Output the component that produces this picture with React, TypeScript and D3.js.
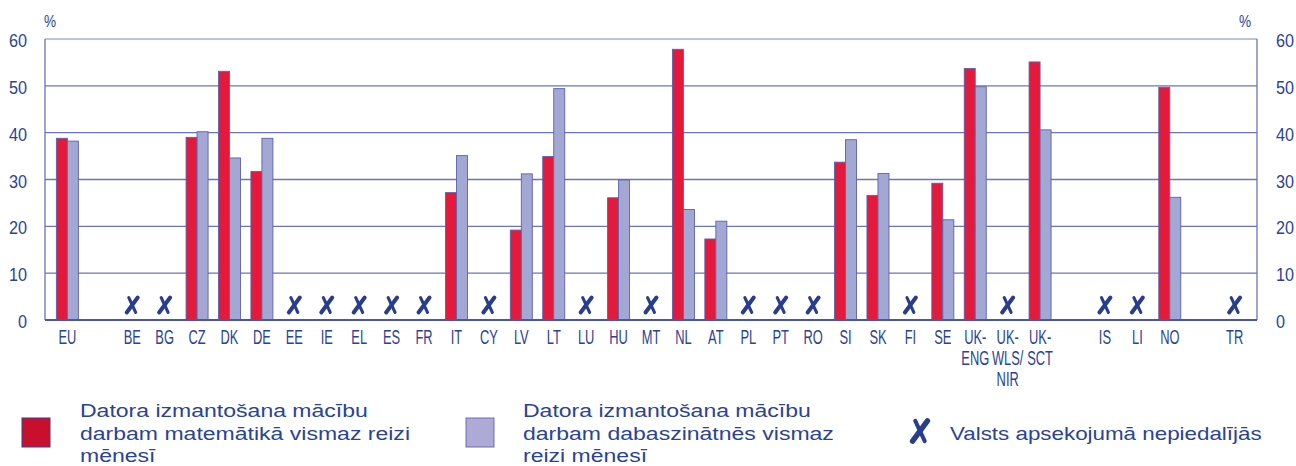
import React from "react";
import * as d3 from "d3";

const categories = ["EU","gap1","BE","BG","CZ","DK","DE","EE","IE","EL","ES","FR","IT","CY","LV","LT","LU","HU","MT","NL","AT","PL","PT","RO","SI","SK","FI","SE","UK-ENG","UK-WLS/NIR","UK-SCT","gap2","IS","LI","NO","gap3","TR"];
const categoryLabels: string[][] = [["EU"],[],["BE"],["BG"],["CZ"],["DK"],["DE"],["EE"],["IE"],["EL"],["ES"],["FR"],["IT"],["CY"],["LV"],["LT"],["LU"],["HU"],["MT"],["NL"],["AT"],["PL"],["PT"],["RO"],["SI"],["SK"],["FI"],["SE"],["UK-","ENG"],["UK-","WLS/","NIR"],["UK-","SCT"],[],["IS"],["LI"],["NO"],[],["TR"]];
const mathValues: (number | null)[] = [38.8,null,null,null,39.0,53.1,31.7,null,null,null,null,null,27.2,null,19.2,34.9,null,26.1,null,57.8,17.3,null,null,null,33.7,26.6,null,29.2,53.7,null,55.1,null,null,null,49.7,null,null];
const scienceValues: (number | null)[] = [38.2,null,null,null,40.2,34.6,38.8,null,null,null,null,null,35.1,null,31.2,49.4,null,29.9,null,23.6,21.1,null,null,null,38.5,31.3,null,21.4,49.8,null,40.6,null,null,null,26.2,null,null];
const notParticipating = ["BE","BG","EE","IE","EL","ES","FR","CY","LU","MT","PL","PT","RO","FI","UK-WLS/NIR","IS","LI","TR"];
const yTicks = [0,10,20,30,40,50,60];
const seriesKeys = ["math","science"];
const legendMath = ["Datora izmantošana mācību","darbam matemātikā vismaz reizi","mēnesī"];
const legendScience = ["Datora izmantošana mācību","darbam dabaszinātnēs vismaz","reizi mēnesī"];
const legendX = "Valsts apsekojumā nepiedalījās";

const RED = "#E31A3C";
const LAV = "#A3A7D3";
const OUTLINE = "#5A62AE";
const NAVY = "#2A4394";
const GRID = "#6B74BC";
const SANS = "'Liberation Sans',Arial,sans-serif";

function XMark({ cx, cy, s = 1 }: { cx: number; cy: number; s?: number }) {
  return (
    <g transform={`translate(${cx},${cy}) scale(${s})`}>
      <path d="M-3.5,-7.5 Q0,0 3.5,7.5" stroke="#2A3C8C" strokeWidth={3} fill="none" strokeLinecap="round" />
      <path d="M5.5,-7.5 L-5.5,7.5" stroke="#2A3C8C" strokeWidth={4} fill="none" strokeLinecap="round" />
    </g>
  );
}

function SText({ x, y, sx, size, anchor = "start", children }: { x: number; y: number; sx: number; size: number; anchor?: string; children: React.ReactNode }) {
  return (
    <text transform={`translate(${x},${y}) scale(${sx},1)`} textAnchor={anchor} fontFamily={SANS} fontSize={size} fill={NAVY}>
      {children}
    </text>
  );
}

export default function App() {
  const W = 1296, H = 466;
  const left = 45, right = 1257, top = 39, bottom = 320;
  const x = d3.scaleBand<string>().domain(categories).range([left, right]).paddingInner(0).paddingOuter(0.19);
  const y = d3.scaleLinear().domain([0, 60]).range([bottom, top]);
  const x1 = d3.scaleBand<string>().domain(seriesKeys).range([0, 22]);
  const off = (x.bandwidth() - 22) / 2;
  const cxOf = (c: string) => (x(c) as number) + x.bandwidth() / 2;

  return (
    <svg width={W} height={H} style={{ display: "block", position: "absolute", left: 0, top: 0 }}>
      {yTicks.filter(t => t > 0).map(t => (
        <line key={"g" + t} x1={left} x2={right} y1={y(t)} y2={y(t)} stroke={t === 60 ? "#A9AEDA" : GRID} strokeWidth={1.3} />
      ))}
      <line x1={left} x2={left} y1={top} y2={bottom} stroke={GRID} strokeWidth={1.3} />
      <line x1={right} x2={right} y1={top} y2={bottom} stroke={GRID} strokeWidth={1.3} />
      {categories.map((c, i) => {
        const bx = (x(c) as number) + off;
        const m = mathValues[i];
        const s = scienceValues[i];
        return (
          <g key={c}>
            {m != null && (
              <rect x={bx + (x1("math") as number)} y={y(m)} width={x1.bandwidth()} height={y(0) - y(m)} fill={RED} stroke={OUTLINE} strokeWidth={0.9} />
            )}
            {s != null && (
              <rect x={bx + (x1("science") as number)} y={y(s)} width={x1.bandwidth()} height={y(0) - y(s)} fill={LAV} stroke={OUTLINE} strokeWidth={0.9} />
            )}
          </g>
        );
      })}
      <line x1={left} x2={right} y1={bottom} y2={bottom} stroke="#4A56A6" strokeWidth={2} />
      {categories.filter(c => notParticipating.includes(c)).map(c => (
        <XMark key={"x" + c} cx={cxOf(c)} cy={y(0) - 15} />
      ))}
      {categories.map((c, i) =>
        categoryLabels[i].map((ln, j) => (
          <SText key={"l" + c + j} x={cxOf(c)} y={344 + j * 21} sx={0.66} size={19.5} anchor="middle">{ln}</SText>
        ))
      )}
      {yTicks.map(t => (
        <g key={"t" + t}>
          <SText x={27} y={y(t) + 8} sx={0.9} size={18} anchor="end">{t}</SText>
          <SText x={1276} y={y(t) + 8} sx={0.9} size={18} anchor="start">{t}</SText>
        </g>
      ))}
      <SText x={50} y={27} sx={0.8} size={17} anchor="middle">%</SText>
      <SText x={1245} y={27} sx={0.8} size={17} anchor="middle">%</SText>

      <rect x={22} y={418} width={28} height={29} fill="#C8102E" stroke="#3B3F8C" strokeWidth={1} />
      {legendMath.map((ln, j) => (
        <SText key={"lm" + j} x={80} y={417 + j * 22.5} sx={1.245} size={18.5}>{ln}</SText>
      ))}
      <rect x={466} y={418} width={28} height={29} fill="#ADAAD6" stroke="#6B6FB5" strokeWidth={1} />
      {legendScience.map((ln, j) => (
        <SText key={"ls" + j} x={523} y={417 + j * 22.5} sx={1.245} size={18.5}>{ln}</SText>
      ))}
      <XMark cx={920} cy={431} s={1.35} />
      <SText x={950} y={440} sx={1.21} size={18.5}>{legendX}</SText>
    </svg>
  );
}
